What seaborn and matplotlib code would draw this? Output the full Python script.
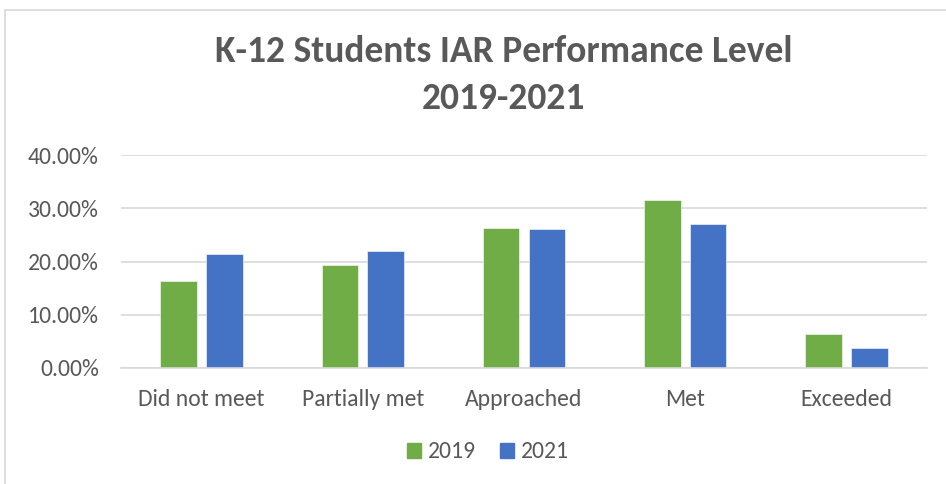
import pandas as pd
import seaborn as sns
import matplotlib

matplotlib.use("Agg")
import matplotlib.pyplot as plt
from matplotlib.patches import Rectangle
from matplotlib.ticker import FuncFormatter

_INK = "#595959"
_GRID = "#d9d9d9"
_GREEN = "#70ad47"
_BLUE = "#4472c4"

levels = ["Did not meet", "Partially met", "Approached", "Met", "Exceeded"]
years = ["2019", "2021"]
share_2019 = [0.164, 0.194, 0.263, 0.315, 0.063]
share_2021 = [0.214, 0.219, 0.261, 0.270, 0.037]
y_ticks = [0.0, 0.1, 0.2, 0.3, 0.4]

df = pd.DataFrame({
    "level": levels * 2,
    "year": [years[0]] * len(levels) + [years[1]] * len(levels),
    "share": share_2019 + share_2021,
})

sns.set_theme(style="white")
plt.rcParams["font.family"] = ["Carlito", "Liberation Sans Narrow", "DejaVu Sans"]

fig = plt.figure(figsize=(9.46, 4.84), dpi=100)
fig.set_facecolor("white")
ax = fig.add_axes([121 / 946, 1 - 368 / 484, 806 / 946, 213 / 484])

# two bars per level, ~37px wide with a ~9px gap between them
sns.barplot(
    data=df, x="level", y="share", hue="year", order=levels, hue_order=years,
    palette={"2019": _GREEN, "2021": _BLUE}, saturation=1, width=0.568, gap=0.2,
    edgecolor="white", linewidth=0.4, ax=ax, legend=False,
)

ax.set_ylim(0, 0.4)
ax.set_yticks(y_ticks)
ax.yaxis.set_major_formatter(FuncFormatter(lambda y, _: f"{y * 100:.2f}%"))
ax.grid(True, axis="y", color=_GRID, linewidth=1.2)
ax.set_axisbelow(True)
for side in ("top", "right", "left"):
    ax.spines[side].set_visible(False)
ax.spines["bottom"].set_color(_GRID)
ax.spines["bottom"].set_linewidth(1.2)
ax.tick_params(axis="both", length=0, colors=_INK, labelsize=17)
ax.tick_params(axis="x", pad=15)
ax.tick_params(axis="y", pad=16)
ax.set_xlabel("")
ax.set_ylabel("")

fig.text(0.532, 1 - 75 / 484, "K-12 Students IAR Performance Level\n2019-2021", ha="center", va="center",
         fontsize=27, fontweight="bold", color=_INK, linespacing=1.55)

handles = [Rectangle((0, 0), 1, 1, color=_GREEN), Rectangle((0, 0), 1, 1, color=_BLUE)]
leg = fig.legend(handles, years, loc="center", bbox_to_anchor=(488 / 946, 1 - 452 / 484), ncol=2,
                 frameon=False, fontsize=17, handlelength=0.6, handleheight=0.6, handletextpad=0.3,
                 columnspacing=1.0)
for t in leg.get_texts():
    t.set_color(_INK)

fig.patches.append(Rectangle((5 / 946, -0.05), 1.0, 1 - 10 / 484 + 0.05, transform=fig.transFigure,
                             fill=False, edgecolor=_GRID, linewidth=1.2))

fig.savefig("out.png", dpi=100, facecolor="white")
